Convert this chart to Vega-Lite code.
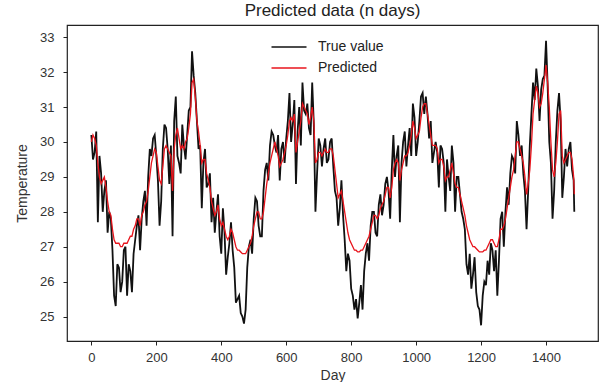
{
  "$schema": "https://vega.github.io/schema/vega-lite/v6.json",
  "width": 531,
  "height": 316,
  "autosize": {"type": "none"},
  "padding": {"left": 67, "top": 25, "right": 2, "bottom": 41},
  "background": "white",
  "config": {
    "font": "Liberation Sans",
    "view": {"stroke": "#222222", "strokeWidth": 1.2},
    "axis": {"domain": false, "grid": false, "tickColor": "#222222", "tickSize": 4, "tickWidth": 1, "labelColor": "#333333", "titleColor": "#333333", "labelFontSize": 13, "titleFontSize": 14, "titleFontWeight": "normal", "labelFont": "Liberation Sans", "titleFont": "Liberation Sans"}
  },
  "title": {"text": "Predicted data (n days)", "fontSize": 17, "fontWeight": "normal", "color": "#222222", "offset": 5, "font": "Liberation Sans"},
  "data": {"values": [
    {"day": 0, "True value": 30.2, "Predicted": 30.0},
    {"day": 5, "True value": 29.5, "Predicted": 30.2},
    {"day": 10, "True value": 29.7, "Predicted": 30.1},
    {"day": 15, "True value": 30.3, "Predicted": 29.9},
    {"day": 20, "True value": 27.7, "Predicted": 29.4},
    {"day": 25, "True value": 29.6, "Predicted": 29.0},
    {"day": 30, "True value": 29.1, "Predicted": 28.8},
    {"day": 35, "True value": 28.0, "Predicted": 28.9},
    {"day": 40, "True value": 28.6, "Predicted": 29.0},
    {"day": 45, "True value": 28.9, "Predicted": 28.7},
    {"day": 50, "True value": 27.4, "Predicted": 28.3},
    {"day": 55, "True value": 28.0, "Predicted": 28.0},
    {"day": 60, "True value": 27.8, "Predicted": 27.9},
    {"day": 65, "True value": 26.9, "Predicted": 27.5},
    {"day": 70, "True value": 25.6, "Predicted": 27.2},
    {"day": 75, "True value": 25.3, "Predicted": 27.1},
    {"day": 80, "True value": 26.5, "Predicted": 27.1},
    {"day": 85, "True value": 26.4, "Predicted": 27.1},
    {"day": 90, "True value": 25.7, "Predicted": 27.0},
    {"day": 95, "True value": 26.0, "Predicted": 27.0},
    {"day": 100, "True value": 26.9, "Predicted": 27.1},
    {"day": 105, "True value": 27.0, "Predicted": 27.1},
    {"day": 110, "True value": 25.6, "Predicted": 27.1},
    {"day": 115, "True value": 26.5, "Predicted": 27.2},
    {"day": 120, "True value": 26.3, "Predicted": 27.3},
    {"day": 125, "True value": 25.7, "Predicted": 27.3},
    {"day": 130, "True value": 26.8, "Predicted": 27.5},
    {"day": 135, "True value": 27.2, "Predicted": 27.6},
    {"day": 140, "True value": 27.6, "Predicted": 27.8},
    {"day": 145, "True value": 27.9, "Predicted": 27.8},
    {"day": 150, "True value": 26.9, "Predicted": 27.6},
    {"day": 155, "True value": 27.8, "Predicted": 27.9},
    {"day": 160, "True value": 28.3, "Predicted": 28.0},
    {"day": 165, "True value": 28.6, "Predicted": 28.2},
    {"day": 170, "True value": 27.6, "Predicted": 28.3},
    {"day": 175, "True value": 29.0, "Predicted": 28.6},
    {"day": 180, "True value": 29.8, "Predicted": 29.0},
    {"day": 185, "True value": 29.6, "Predicted": 29.4},
    {"day": 190, "True value": 30.1, "Predicted": 29.6},
    {"day": 195, "True value": 30.2, "Predicted": 29.8},
    {"day": 200, "True value": 29.6, "Predicted": 29.7},
    {"day": 205, "True value": 28.9, "Predicted": 29.3},
    {"day": 210, "True value": 27.6, "Predicted": 28.9},
    {"day": 215, "True value": 28.3, "Predicted": 28.8},
    {"day": 220, "True value": 29.8, "Predicted": 29.3},
    {"day": 225, "True value": 30.5, "Predicted": 29.8},
    {"day": 230, "True value": 30.4, "Predicted": 29.9},
    {"day": 235, "True value": 29.8, "Predicted": 29.8},
    {"day": 240, "True value": 28.8, "Predicted": 29.7},
    {"day": 245, "True value": 29.9, "Predicted": 29.6},
    {"day": 250, "True value": 27.3, "Predicted": 28.6},
    {"day": 255, "True value": 30.6, "Predicted": 29.8},
    {"day": 260, "True value": 31.3, "Predicted": 30.2},
    {"day": 265, "True value": 29.6, "Predicted": 30.4},
    {"day": 270, "True value": 29.4, "Predicted": 30.1},
    {"day": 275, "True value": 29.1, "Predicted": 29.8},
    {"day": 280, "True value": 30.5, "Predicted": 29.9},
    {"day": 285, "True value": 29.9, "Predicted": 29.8},
    {"day": 290, "True value": 29.5, "Predicted": 30.0},
    {"day": 295, "True value": 30.2, "Predicted": 30.1},
    {"day": 300, "True value": 30.9, "Predicted": 30.4},
    {"day": 305, "True value": 31.0, "Predicted": 30.8},
    {"day": 310, "True value": 32.6, "Predicted": 31.7},
    {"day": 315, "True value": 31.9, "Predicted": 31.8},
    {"day": 320, "True value": 31.4, "Predicted": 31.3},
    {"day": 325, "True value": 30.6, "Predicted": 30.6},
    {"day": 330, "True value": 29.8, "Predicted": 30.3},
    {"day": 335, "True value": 29.9, "Predicted": 29.9},
    {"day": 340, "True value": 28.1, "Predicted": 29.4},
    {"day": 345, "True value": 29.4, "Predicted": 29.5},
    {"day": 350, "True value": 29.8, "Predicted": 29.5},
    {"day": 355, "True value": 28.7, "Predicted": 29.1},
    {"day": 360, "True value": 28.8, "Predicted": 28.9},
    {"day": 365, "True value": 29.1, "Predicted": 28.7},
    {"day": 370, "True value": 27.7, "Predicted": 28.3},
    {"day": 375, "True value": 28.4, "Predicted": 28.1},
    {"day": 380, "True value": 27.4, "Predicted": 27.9},
    {"day": 385, "True value": 28.0, "Predicted": 28.0},
    {"day": 390, "True value": 28.5, "Predicted": 28.2},
    {"day": 395, "True value": 27.3, "Predicted": 27.8},
    {"day": 400, "True value": 26.8, "Predicted": 27.6},
    {"day": 405, "True value": 28.1, "Predicted": 27.7},
    {"day": 410, "True value": 27.4, "Predicted": 27.5},
    {"day": 415, "True value": 26.2, "Predicted": 27.3},
    {"day": 420, "True value": 26.7, "Predicted": 27.2},
    {"day": 425, "True value": 27.1, "Predicted": 27.3},
    {"day": 430, "True value": 27.7, "Predicted": 27.5},
    {"day": 435, "True value": 26.9, "Predicted": 27.4},
    {"day": 440, "True value": 26.4, "Predicted": 27.2},
    {"day": 445, "True value": 25.4, "Predicted": 27.0},
    {"day": 450, "True value": 25.5, "Predicted": 26.9},
    {"day": 455, "True value": 25.6, "Predicted": 26.9},
    {"day": 460, "True value": 25.1, "Predicted": 26.85},
    {"day": 465, "True value": 25.0, "Predicted": 26.8},
    {"day": 470, "True value": 24.8, "Predicted": 26.8},
    {"day": 475, "True value": 25.2, "Predicted": 26.8},
    {"day": 480, "True value": 26.4, "Predicted": 26.9},
    {"day": 485, "True value": 27.0, "Predicted": 27.0},
    {"day": 490, "True value": 27.2, "Predicted": 27.1},
    {"day": 495, "True value": 26.8, "Predicted": 27.3},
    {"day": 500, "True value": 27.8, "Predicted": 27.6},
    {"day": 505, "True value": 28.4, "Predicted": 27.8},
    {"day": 510, "True value": 28.3, "Predicted": 28.0},
    {"day": 515, "True value": 27.6, "Predicted": 28.0},
    {"day": 520, "True value": 27.3, "Predicted": 27.8},
    {"day": 525, "True value": 27.3, "Predicted": 27.8},
    {"day": 530, "True value": 28.6, "Predicted": 28.0},
    {"day": 535, "True value": 29.2, "Predicted": 28.4},
    {"day": 540, "True value": 29.4, "Predicted": 28.8},
    {"day": 545, "True value": 28.9, "Predicted": 29.1},
    {"day": 550, "True value": 29.9, "Predicted": 29.4},
    {"day": 555, "True value": 30.3, "Predicted": 29.6},
    {"day": 560, "True value": 30.2, "Predicted": 29.8},
    {"day": 565, "True value": 29.9, "Predicted": 30.0},
    {"day": 570, "True value": 29.7, "Predicted": 29.8},
    {"day": 575, "True value": 30.2, "Predicted": 29.6},
    {"day": 580, "True value": 28.9, "Predicted": 29.3},
    {"day": 585, "True value": 29.8, "Predicted": 29.4},
    {"day": 590, "True value": 30.0, "Predicted": 29.5},
    {"day": 595, "True value": 29.4, "Predicted": 29.7},
    {"day": 600, "True value": 30.1, "Predicted": 29.9},
    {"day": 605, "True value": 30.6, "Predicted": 30.2},
    {"day": 610, "True value": 31.4, "Predicted": 30.6},
    {"day": 615, "True value": 30.0, "Predicted": 30.7},
    {"day": 620, "True value": 30.5, "Predicted": 30.6},
    {"day": 625, "True value": 31.2, "Predicted": 30.8},
    {"day": 630, "True value": 28.8, "Predicted": 29.7},
    {"day": 635, "True value": 30.3, "Predicted": 30.0},
    {"day": 640, "True value": 31.0, "Predicted": 30.3},
    {"day": 645, "True value": 29.9, "Predicted": 30.6},
    {"day": 650, "True value": 31.7, "Predicted": 31.1},
    {"day": 655, "True value": 30.9, "Predicted": 31.0},
    {"day": 660, "True value": 30.8, "Predicted": 30.9},
    {"day": 665, "True value": 31.1, "Predicted": 30.8},
    {"day": 670, "True value": 30.4, "Predicted": 30.5},
    {"day": 675, "True value": 30.2, "Predicted": 30.7},
    {"day": 680, "True value": 31.7, "Predicted": 31.0},
    {"day": 685, "True value": 30.5, "Predicted": 30.6},
    {"day": 690, "True value": 28.0, "Predicted": 29.4},
    {"day": 695, "True value": 29.1, "Predicted": 29.5},
    {"day": 700, "True value": 30.1, "Predicted": 29.7},
    {"day": 705, "True value": 29.9, "Predicted": 29.7},
    {"day": 710, "True value": 29.3, "Predicted": 29.6},
    {"day": 715, "True value": 29.8, "Predicted": 29.7},
    {"day": 720, "True value": 30.1, "Predicted": 29.8},
    {"day": 725, "True value": 29.4, "Predicted": 29.7},
    {"day": 730, "True value": 29.5, "Predicted": 29.7},
    {"day": 735, "True value": 30.0, "Predicted": 29.8},
    {"day": 740, "True value": 30.1, "Predicted": 29.8},
    {"day": 745, "True value": 29.3, "Predicted": 29.6},
    {"day": 750, "True value": 28.6, "Predicted": 29.2},
    {"day": 755, "True value": 28.4, "Predicted": 28.8},
    {"day": 760, "True value": 27.6, "Predicted": 28.4},
    {"day": 765, "True value": 28.1, "Predicted": 28.5},
    {"day": 770, "True value": 28.9, "Predicted": 28.6},
    {"day": 775, "True value": 27.9, "Predicted": 28.3},
    {"day": 780, "True value": 27.2, "Predicted": 28.0},
    {"day": 785, "True value": 26.3, "Predicted": 27.7},
    {"day": 790, "True value": 26.8, "Predicted": 27.4},
    {"day": 795, "True value": 26.6, "Predicted": 27.2},
    {"day": 800, "True value": 25.8, "Predicted": 27.1},
    {"day": 805, "True value": 25.6, "Predicted": 27.0},
    {"day": 810, "True value": 25.2, "Predicted": 26.9},
    {"day": 815, "True value": 25.5, "Predicted": 26.9},
    {"day": 820, "True value": 24.95, "Predicted": 26.85},
    {"day": 825, "True value": 25.4, "Predicted": 26.85},
    {"day": 830, "True value": 25.9, "Predicted": 26.9},
    {"day": 835, "True value": 25.2, "Predicted": 26.9},
    {"day": 840, "True value": 26.3, "Predicted": 27.0},
    {"day": 845, "True value": 26.8, "Predicted": 27.1},
    {"day": 850, "True value": 27.1, "Predicted": 27.2},
    {"day": 855, "True value": 26.6, "Predicted": 27.3},
    {"day": 860, "True value": 27.6, "Predicted": 27.5},
    {"day": 865, "True value": 28.0, "Predicted": 27.7},
    {"day": 870, "True value": 28.0, "Predicted": 27.9},
    {"day": 875, "True value": 27.4, "Predicted": 27.9},
    {"day": 880, "True value": 27.3, "Predicted": 27.8},
    {"day": 885, "True value": 28.2, "Predicted": 27.9},
    {"day": 890, "True value": 28.5, "Predicted": 28.1},
    {"day": 895, "True value": 27.9, "Predicted": 28.2},
    {"day": 900, "True value": 28.2, "Predicted": 28.3},
    {"day": 905, "True value": 28.8, "Predicted": 28.5},
    {"day": 910, "True value": 29.0, "Predicted": 28.7},
    {"day": 915, "True value": 28.6, "Predicted": 28.7},
    {"day": 920, "True value": 27.8, "Predicted": 28.4},
    {"day": 925, "True value": 29.2, "Predicted": 28.7},
    {"day": 930, "True value": 30.2, "Predicted": 29.2},
    {"day": 935, "True value": 29.0, "Predicted": 29.4},
    {"day": 940, "True value": 29.6, "Predicted": 29.5},
    {"day": 945, "True value": 29.9, "Predicted": 29.4},
    {"day": 950, "True value": 27.7, "Predicted": 28.9},
    {"day": 955, "True value": 29.4, "Predicted": 29.2},
    {"day": 960, "True value": 30.0, "Predicted": 29.4},
    {"day": 965, "True value": 30.3, "Predicted": 29.6},
    {"day": 970, "True value": 29.3, "Predicted": 29.6},
    {"day": 975, "True value": 29.9, "Predicted": 29.7},
    {"day": 980, "True value": 30.4, "Predicted": 29.9},
    {"day": 985, "True value": 29.6, "Predicted": 30.2},
    {"day": 990, "True value": 31.1, "Predicted": 30.6},
    {"day": 995, "True value": 30.7, "Predicted": 30.4},
    {"day": 1000, "True value": 29.6, "Predicted": 30.1},
    {"day": 1005, "True value": 30.0, "Predicted": 30.2},
    {"day": 1010, "True value": 30.6, "Predicted": 30.3},
    {"day": 1015, "True value": 31.3, "Predicted": 30.7},
    {"day": 1020, "True value": 31.4, "Predicted": 31.0},
    {"day": 1025, "True value": 30.8, "Predicted": 31.1},
    {"day": 1030, "True value": 31.3, "Predicted": 31.1},
    {"day": 1035, "True value": 30.8, "Predicted": 30.8},
    {"day": 1040, "True value": 30.1, "Predicted": 30.5},
    {"day": 1045, "True value": 30.6, "Predicted": 30.2},
    {"day": 1050, "True value": 29.4, "Predicted": 29.9},
    {"day": 1055, "True value": 29.7, "Predicted": 29.9},
    {"day": 1060, "True value": 30.0, "Predicted": 29.9},
    {"day": 1065, "True value": 29.7, "Predicted": 29.8},
    {"day": 1070, "True value": 28.7, "Predicted": 29.4},
    {"day": 1075, "True value": 29.9, "Predicted": 29.5},
    {"day": 1080, "True value": 29.8, "Predicted": 29.5},
    {"day": 1085, "True value": 29.4, "Predicted": 29.3},
    {"day": 1090, "True value": 28.0, "Predicted": 28.9},
    {"day": 1095, "True value": 29.5, "Predicted": 29.0},
    {"day": 1100, "True value": 29.0, "Predicted": 29.0},
    {"day": 1105, "True value": 28.6, "Predicted": 29.2},
    {"day": 1110, "True value": 29.9, "Predicted": 29.4},
    {"day": 1115, "True value": 29.4, "Predicted": 29.1},
    {"day": 1120, "True value": 28.0, "Predicted": 28.8},
    {"day": 1125, "True value": 29.0, "Predicted": 28.7},
    {"day": 1130, "True value": 29.0, "Predicted": 28.7},
    {"day": 1135, "True value": 28.5, "Predicted": 28.5},
    {"day": 1140, "True value": 28.0, "Predicted": 28.3},
    {"day": 1145, "True value": 27.8, "Predicted": 28.1},
    {"day": 1150, "True value": 27.5, "Predicted": 27.9},
    {"day": 1155, "True value": 26.5, "Predicted": 27.6},
    {"day": 1160, "True value": 26.2, "Predicted": 27.4},
    {"day": 1165, "True value": 26.8, "Predicted": 27.2},
    {"day": 1170, "True value": 25.8, "Predicted": 27.1},
    {"day": 1175, "True value": 26.2, "Predicted": 27.0},
    {"day": 1180, "True value": 26.7, "Predicted": 27.0},
    {"day": 1185, "True value": 25.7, "Predicted": 26.95},
    {"day": 1190, "True value": 25.3, "Predicted": 26.9},
    {"day": 1195, "True value": 25.2, "Predicted": 26.85},
    {"day": 1200, "True value": 24.75, "Predicted": 26.85},
    {"day": 1205, "True value": 25.6, "Predicted": 26.85},
    {"day": 1210, "True value": 26.0, "Predicted": 26.9},
    {"day": 1215, "True value": 25.9, "Predicted": 26.9},
    {"day": 1220, "True value": 26.6, "Predicted": 27.0},
    {"day": 1225, "True value": 26.2, "Predicted": 27.1},
    {"day": 1230, "True value": 27.1, "Predicted": 27.2},
    {"day": 1235, "True value": 26.9, "Predicted": 27.2},
    {"day": 1240, "True value": 26.3, "Predicted": 27.1},
    {"day": 1245, "True value": 26.9, "Predicted": 27.0},
    {"day": 1250, "True value": 25.6, "Predicted": 27.0},
    {"day": 1255, "True value": 26.6, "Predicted": 27.2},
    {"day": 1260, "True value": 27.8, "Predicted": 27.5},
    {"day": 1265, "True value": 28.0, "Predicted": 27.5},
    {"day": 1270, "True value": 27.0, "Predicted": 27.6},
    {"day": 1275, "True value": 28.0, "Predicted": 27.8},
    {"day": 1280, "True value": 28.7, "Predicted": 28.1},
    {"day": 1285, "True value": 28.2, "Predicted": 28.4},
    {"day": 1290, "True value": 29.1, "Predicted": 28.7},
    {"day": 1295, "True value": 29.6, "Predicted": 29.0},
    {"day": 1300, "True value": 29.5, "Predicted": 29.2},
    {"day": 1305, "True value": 29.1, "Predicted": 29.6},
    {"day": 1310, "True value": 30.6, "Predicted": 30.0},
    {"day": 1315, "True value": 30.2, "Predicted": 30.0},
    {"day": 1320, "True value": 29.6, "Predicted": 29.8},
    {"day": 1325, "True value": 29.9, "Predicted": 29.6},
    {"day": 1330, "True value": 29.1, "Predicted": 29.4},
    {"day": 1335, "True value": 28.6, "Predicted": 29.0},
    {"day": 1340, "True value": 27.5, "Predicted": 28.5},
    {"day": 1345, "True value": 28.6, "Predicted": 28.8},
    {"day": 1350, "True value": 29.9, "Predicted": 29.2},
    {"day": 1355, "True value": 30.8, "Predicted": 29.9},
    {"day": 1360, "True value": 31.7, "Predicted": 30.8},
    {"day": 1365, "True value": 31.2, "Predicted": 31.2},
    {"day": 1370, "True value": 32.1, "Predicted": 31.6},
    {"day": 1375, "True value": 31.6, "Predicted": 31.4},
    {"day": 1380, "True value": 30.6, "Predicted": 31.0},
    {"day": 1385, "True value": 31.5, "Predicted": 31.1},
    {"day": 1390, "True value": 31.8, "Predicted": 31.4},
    {"day": 1395, "True value": 31.9, "Predicted": 31.8},
    {"day": 1400, "True value": 32.9, "Predicted": 32.2},
    {"day": 1405, "True value": 31.6, "Predicted": 31.7},
    {"day": 1410, "True value": 30.0, "Predicted": 31.0},
    {"day": 1415, "True value": 29.4, "Predicted": 30.0},
    {"day": 1420, "True value": 27.8, "Predicted": 29.2},
    {"day": 1425, "True value": 28.6, "Predicted": 29.0},
    {"day": 1430, "True value": 30.0, "Predicted": 29.4},
    {"day": 1435, "True value": 30.9, "Predicted": 30.0},
    {"day": 1440, "True value": 31.4, "Predicted": 30.8},
    {"day": 1445, "True value": 30.6, "Predicted": 30.9},
    {"day": 1450, "True value": 28.4, "Predicted": 29.6},
    {"day": 1455, "True value": 29.0, "Predicted": 29.4},
    {"day": 1460, "True value": 29.8, "Predicted": 29.5},
    {"day": 1465, "True value": 29.3, "Predicted": 29.6},
    {"day": 1470, "True value": 29.8, "Predicted": 29.7},
    {"day": 1475, "True value": 30.0, "Predicted": 29.7},
    {"day": 1480, "True value": 29.2, "Predicted": 29.5},
    {"day": 1485, "True value": 28.9, "Predicted": 29.0},
    {"day": 1487, "True value": 28.0, "Predicted": 28.5}
  ]},
  "transform": [{"fold": ["True value", "Predicted"], "as": ["series", "value"]}],
  "encoding": {
    "x": {"field": "day", "type": "quantitative", "scale": {"domain": [-75, 1560], "nice": false, "zero": false},
      "axis": {"values": [0, 200, 400, 600, 800, 1000, 1200, 1400], "format": "d", "title": "Day", "labelPadding": 6, "titlePadding": 4}},
    "y": {"field": "value", "type": "quantitative", "scale": {"domain": [24.3, 33.35], "nice": false, "zero": false},
      "axis": {"values": [25, 26, 27, 28, 29, 30, 31, 32, 33], "title": "Temperature", "labelPadding": 9, "titlePadding": 10}},
    "color": {"field": "series", "type": "nominal",
      "scale": {"domain": ["True value", "Predicted"], "range": ["#111111", "#e8141c"]},
      "legend": {"title": null, "orient": "none", "legendX": 211, "legendY": 11, "symbolType": "M-1.75,0H1.75", "symbolSize": 400, "symbolStrokeWidth": 1.5, "labelFontSize": 14, "labelColor": "#222222", "rowPadding": 3, "padding": 0, "labelOffset": 18, "labelFont": "Liberation Sans"}}
  },
  "layer": [
    {"transform": [{"filter": "datum.series === 'True value'"}], "mark": {"type": "line", "strokeWidth": 1.8}},
    {"transform": [{"filter": "datum.series === 'Predicted'"}], "mark": {"type": "line", "strokeWidth": 1.3}}
  ]
}
